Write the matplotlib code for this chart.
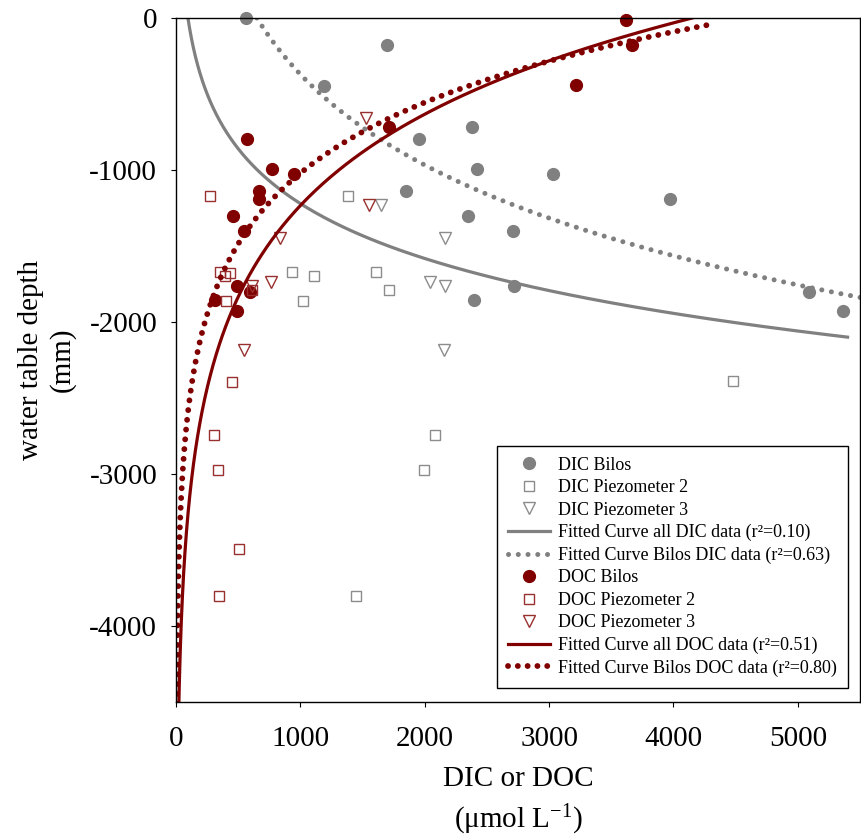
import numpy as np
import matplotlib
matplotlib.use("Agg")
import matplotlib.pyplot as plt

plt.rcParams["font.family"] = ["Liberation Serif", "DejaVu Serif"]
plt.rcParams["mathtext.fontset"] = "custom"
plt.rcParams["mathtext.rm"] = "Liberation Serif"
plt.rcParams["mathtext.it"] = "Liberation Serif:italic"
plt.rcParams["axes.unicode_minus"] = False

GREY = "#808080"
RED = "#800000"

# ── data ─────────────────────────────────────────────────────────────────────
dic_bilos_x = [560, 1700, 1190, 2380, 1950, 2420, 1850, 2345, 2710, 2720, 2395,
               3030, 3970, 5090, 5365]
dic_bilos_y = [0, -180, -445, -715, -795, -995, -1140, -1300, -1400, -1760, -1855,
               -1025, -1190, -1800, -1930]

dic_pz2_x = [1380, 935, 1110, 1605, 1710, 1020, 2080, 1995, 1450, 4480]
dic_pz2_y = [-1170, -1670, -1700, -1670, -1790, -1860, -2745, -2975, -3800, -2390]

dic_pz3_x = [1650, 2160, 2040, 2160, 2155]
dic_pz3_y = [-1230, -1450, -1735, -1765, -2185]

doc_bilos_x = [3620, 3665, 3220, 1710, 570, 770, 950, 670, 670, 460, 545, 490,
               595, 310, 490]
doc_bilos_y = [-15, -180, -440, -715, -795, -995, -1025, -1140, -1190, -1300,
               -1400, -1760, -1800, -1855, -1930]

doc_pz2_x = [275, 355, 435, 390, 615, 400, 450, 305, 335, 505, 345]
doc_pz2_y = [-1170, -1670, -1675, -1700, -1790, -1860, -2395, -2745, -2975,
             -3495, -3800]

doc_pz3_x = [1525, 1550, 835, 765, 615, 545]
doc_pz3_y = [-655, -1230, -1445, -1735, -1765, -2185]

# logarithmic fits  y = A + B*ln(x), coefficients
fit_dic_all = (2378, -521)
fit_dic_bilos = (5577, -861)
fit_doc_all = (-7223, 867)
fit_doc_bilos = (-5656, 671)
fit_dic_all_range = (96, 5400)
fit_dic_bilos_range = (650, 5600)
fit_doc_all_range = (20, 4150)
fit_doc_bilos_range = (5, 4273)

labels = [
    "DIC Bilos", "DIC Piezometer 2", "DIC Piezometer 3",
    "Fitted Curve all DIC data (r²=0.10)",
    "Fitted Curve Bilos DIC data (r²=0.63)",
    "DOC Bilos", "DOC Piezometer 2", "DOC Piezometer 3",
    "Fitted Curve all DOC data (r²=0.51)",
    "Fitted Curve Bilos DOC data (r²=0.80)",
]


def fit_curve(coef, xr):
    xs = np.geomspace(xr[0], xr[1], 400)
    return xs, coef[0] + coef[1] * np.log(xs)


# ── figure ───────────────────────────────────────────────────────────────────
fig = plt.figure(figsize=(8.61, 8.39), dpi=100)
ax = fig.add_axes([176 / 861, 1 - 702 / 839, 684 / 861, 684 / 839])

mk = dict(ls="none", clip_on=False)
ax.plot(dic_bilos_x, dic_bilos_y, "o", color=GREY, ms=8.5, label=labels[0], **mk)
ax.plot(dic_pz2_x, dic_pz2_y, "s", mfc="none", mec="#8c8c8c", mew=1.0, ms=7,
        label=labels[1], **mk)
ax.plot(dic_pz3_x, dic_pz3_y, "v", mfc="none", mec="#8c8c8c", mew=1.0, ms=8.5,
        label=labels[2], **mk)

xs, ys = fit_curve(fit_dic_all, fit_dic_all_range)
ax.plot(xs, ys, color=GREY, lw=2.3, label=labels[3])
xs, ys = fit_curve(fit_dic_bilos, fit_dic_bilos_range)
ax.plot(xs, ys, color=GREY, lw=3.6, ls=(0, (0.01, 1.94)),
        dash_capstyle="round", label=labels[4])

ax.plot(doc_bilos_x, doc_bilos_y, "o", color=RED, ms=8.5, label=labels[5], **mk)
ax.plot(doc_pz2_x, doc_pz2_y, "s", mfc="none", mec="#983030", mew=1.0, ms=7,
        label=labels[6], **mk)
ax.plot(doc_pz3_x, doc_pz3_y, "v", mfc="none", mec="#983030", mew=1.0, ms=8.5,
        label=labels[7], **mk)

xs, ys = fit_curve(fit_doc_all, fit_doc_all_range)
ax.plot(xs, ys, color=RED, lw=2.3, label=labels[8])
xs, ys = fit_curve(fit_doc_bilos, fit_doc_bilos_range)
ax.plot(xs, ys, color=RED, lw=4.2, ls=(0, (0.01, 1.67)),
        dash_capstyle="round", label=labels[9])

ax.set_xlim(0, 5500)
ax.set_ylim(-4500, 0)
ax.set_xticks(np.arange(0, 5001, 1000))
ax.set_yticks(np.arange(0, -4001, -1000))
ax.tick_params(direction="out", length=3.5, width=0.8, labelsize=21)
ax.tick_params(axis="x", pad=13.5)
ax.tick_params(axis="y", pad=10)
for sp in ax.spines.values():
    sp.set_linewidth(1.0)

ax.set_xlabel("DIC or DOC\n(μmol L$^{-1}$)", fontsize=21, labelpad=10,
              linespacing=1.45)
ax.set_ylabel("water table depth\n(mm)", fontsize=21, labelpad=10)

leg = ax.legend(loc="lower right", bbox_to_anchor=(0.982, 0.0205),
                borderaxespad=0, fontsize=13, frameon=True, fancybox=False,
                framealpha=1, edgecolor="black", handlelength=2.35,
                handletextpad=0.4, labelspacing=0.3, borderpad=0.62)
leg.get_frame().set_linewidth(1.0)

fig.savefig("out.png", dpi=100)
